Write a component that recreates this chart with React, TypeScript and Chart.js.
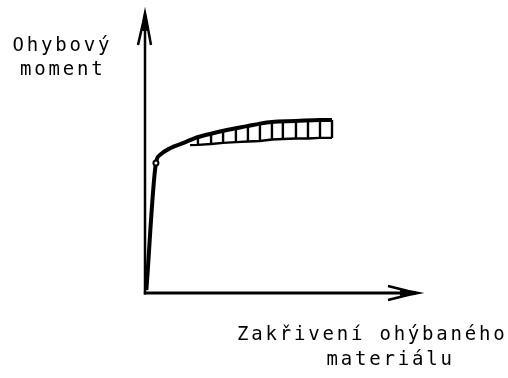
import React, { useEffect, useRef } from "react";
import { Chart, registerables } from "chart.js";

Chart.register(...registerables);

// Main moment–curvature curve (axis units 0..100)
const curveX = [0.5, 4.0, 5.5, 9.2, 13.9, 18.3, 23.8, 30.0, 37.4, 42.1, 46.5, 55.3, 64.1, 68.5];
const curveY = [1, 46.4, 49.3, 51.7, 53.5, 55.3, 56.8, 58.2, 59.6, 60.5, 61.1, 61.4, 61.8, 61.8];
// Marker on the curve (yield point)
const markerIndex = 1;

// Hatching under the plateau
const hatchX = [19.4, 24.2, 28.6, 33.3, 37.7, 42.1, 46.5, 50.5, 55.3, 59.7, 64.1, 68.5];
const hatchTop = [55.7, 57.0, 58.0, 59.1, 60.0, 60.5, 61.1, 61.3, 61.4, 61.6, 61.8, 61.8];
const hatchBottom = [52.9, 53.2, 53.6, 53.9, 54.1, 54.3, 54.8, 55.0, 55.2, 55.2, 55.4, 55.4];
const lowerStartX = [16.5];
const lowerStartY = [52.8];

const yLabelLines = ["Ohybový", "moment"];
const xLabelLines = ["Zakřivení ohýbaného", "materiálu"];

const arrowAxes = {
  id: "arrowAxes",
  beforeDatasetsDraw(chart: any) {
    const { ctx, scales } = chart;
    const xs = scales.x;
    const ys = scales.y;
    const x0 = xs.getPixelForValue(0);
    const x1 = xs.getPixelForValue(100);
    const y0 = ys.getPixelForValue(0);
    const y1 = ys.getPixelForValue(100);
    ctx.save();
    ctx.strokeStyle = "#000";
    ctx.lineCap = "butt";
    ctx.lineJoin = "miter";
    // y axis
    ctx.lineWidth = 2.5;
    ctx.beginPath();
    ctx.moveTo(x0, y0 + 1.5);
    ctx.lineTo(x0, y1 + 2);
    ctx.stroke();
    // x axis
    ctx.lineWidth = 3;
    ctx.beginPath();
    ctx.moveTo(x0 - 1.2, y0);
    ctx.lineTo(x1 - 2, y0);
    ctx.stroke();
    // y arrow head
    ctx.lineWidth = 2.5;
    ctx.beginPath();
    ctx.moveTo(x0 - 7, y1 + 32);
    ctx.lineTo(x0 - 2, y1 + 10);
    ctx.lineTo(x0, y1);
    ctx.lineTo(x0 + 2, y1 + 10);
    ctx.lineTo(x0 + 6, y1 + 32);
    ctx.stroke();
    ctx.fillStyle = "#000";
    ctx.beginPath();
    ctx.moveTo(x0, y1);
    ctx.lineTo(x0 - 3, y1 + 18);
    ctx.lineTo(x0 + 3, y1 + 18);
    ctx.closePath();
    ctx.fill();
    // x arrow head
    ctx.beginPath();
    ctx.moveTo(x1 - 30, y0 - 7);
    ctx.lineTo(x1 - 10, y0 - 2);
    ctx.lineTo(x1, y0);
    ctx.lineTo(x1 - 10, y0 + 2);
    ctx.lineTo(x1 - 30, y0 + 7);
    ctx.stroke();
    ctx.beginPath();
    ctx.moveTo(x1, y0);
    ctx.lineTo(x1 - 18, y0 - 3);
    ctx.lineTo(x1 - 18, y0 + 3);
    ctx.closePath();
    ctx.fill();
    ctx.restore();
  },
};

export default function App() {
  const ref = useRef<HTMLCanvasElement | null>(null);

  useEffect(() => {
    if (!ref.current) return;
    const curve = curveX.map((x, i) => ({ x, y: curveY[i] }));
    const hatch: any[] = [];
    hatchX.forEach((x, i) => {
      hatch.push({ x, y: hatchTop[i] });
      hatch.push({ x, y: hatchBottom[i] });
      hatch.push({ x, y: null });
    });
    const lower = [
      ...lowerStartX.map((x, i) => ({ x, y: lowerStartY[i] })),
      ...hatchX.map((x, i) => ({ x, y: hatchBottom[i] })),
    ];
    const chart = new Chart(ref.current, {
      type: "line",
      data: {
        datasets: [
          {
            data: hatch,
            borderColor: "#000",
            borderWidth: 2.4,
            pointRadius: 0,
            spanGaps: false,
            tension: 0,
          },
          {
            data: lower,
            borderColor: "#000",
            borderWidth: 2.4,
            pointRadius: 0,
            tension: 0,
          },
          {
            data: curve,
            borderColor: "#000",
            borderWidth: 4,
            cubicInterpolationMode: "monotone",
            pointRadius: curve.map((_, i) => (i === markerIndex ? 2.5 : 0)),
            pointBackgroundColor: "#fff",
            pointBorderColor: "#000",
            pointBorderWidth: 2,
          },
        ],
      },
      options: {
        animation: false,
        responsive: false,
        events: [],
        layout: { padding: { left: 145, right: 90, top: 13, bottom: 85 } },
        plugins: { legend: { display: false }, tooltip: { enabled: false }, title: { display: false } },
        scales: {
          x: { type: "linear", min: 0, max: 100, display: false },
          y: { type: "linear", min: 0, max: 100, display: false },
        },
      },
      plugins: [arrowAxes],
    });
    return () => chart.destroy();
  }, []);

  const textStyle: React.CSSProperties = {
    position: "absolute",
    fontFamily: "'DejaVu Sans Mono', monospace",
    fontSize: 19,
    lineHeight: "19px",
    letterSpacing: "2.8px",
    whiteSpace: "nowrap",
    color: "#000",
  };

  return (
    <div style={{ position: "absolute", left: 0, top: 0, width: 508, height: 378, background: "#fff" }}>
      <canvas ref={ref} width={508} height={378} style={{ position: "absolute", left: 0, top: 0, display: "block" }} />
      <div style={{ ...textStyle, left: 12.6, top: 34.9 }}>{yLabelLines[0]}</div>
      <div style={{ ...textStyle, left: 20, top: 58.9 }}>{yLabelLines[1]}</div>
      <div style={{ ...textStyle, left: 237, top: 323.9 }}>{xLabelLines[0]}</div>
      <div style={{ ...textStyle, left: 326.5, top: 348.9 }}>{xLabelLines[1]}</div>
    </div>
  );
}
